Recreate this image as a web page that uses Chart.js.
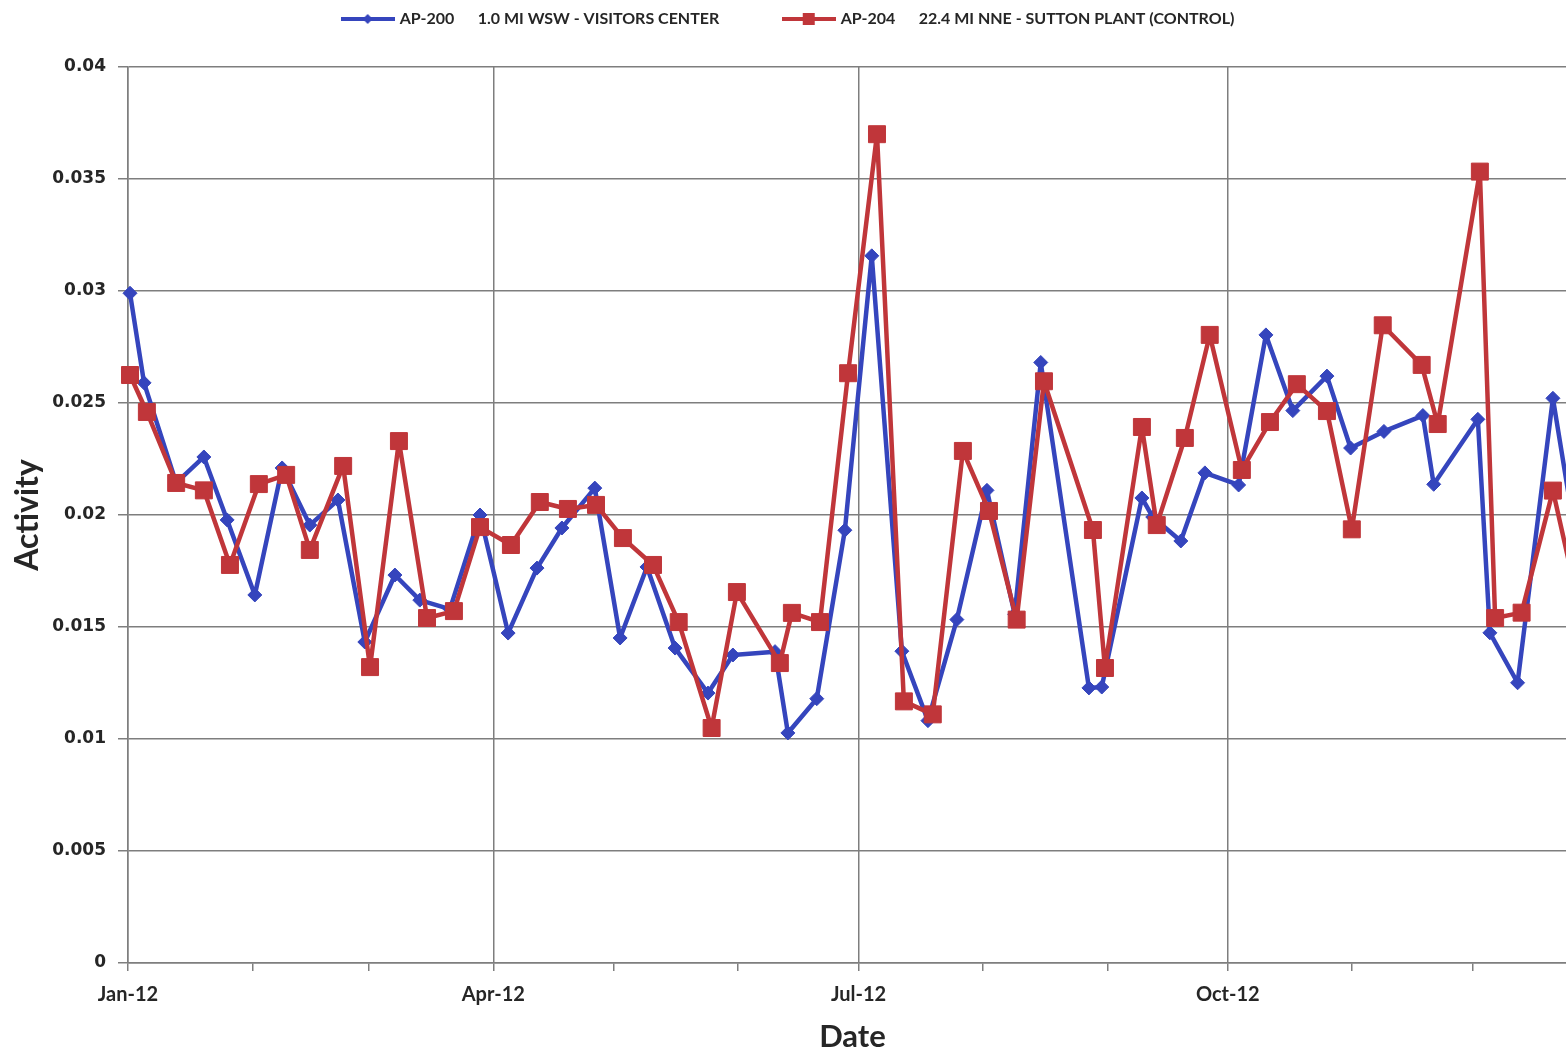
<!DOCTYPE html>
<html>
<head>
<meta charset="utf-8">
<title>AP-200 / AP-204 Activity 2012</title>
<script src="https://cdn.jsdelivr.net/npm/chart.js@4.4.1/dist/chart.umd.min.js"></script>
<style>
html, body { margin: 0; padding: 0; background: #fff; overflow: hidden; }
#wrap { width: 1590px; height: 1052px; }
</style>
</head>
<body>
<div id="wrap"><canvas id="myChart" width="1590" height="1052"></canvas></div>
<script>
// sample dates as days counted from 1 Jan 2012
var ap200Days = [0.5, 4, 12, 18.9, 24.7, 31.6, 38.4, 45.3, 52.3, 59,
    66.5, 72.7, 80.2, 87.7, 94.7, 101.9, 108.1, 116.3, 122.6, 129.3,
    136.3, 144.5, 150.7, 161.2, 164.4, 171.6, 178.6, 185.3, 192.8, 199.3,
    206.5, 214, 220.9, 227.4, 239.4, 242.6, 252.6, 255.3, 262.3, 268.3,
    276.7, 283.5, 290.2, 298.7, 304.6, 312.9, 322.6, 325.3, 336.3, 339.3,
    346.2, 355, 362];
var ap200Values = [0.0299, 0.0259, 0.02143, 0.02259, 0.01978, 0.01643, 0.0221, 0.01955, 0.02067, 0.01433,
    0.01732, 0.0162, 0.0158, 0.0200, 0.01473, 0.01763, 0.01942, 0.0212, 0.01451, 0.01768,
    0.01406, 0.01205, 0.01375, 0.0139, 0.01027, 0.0118, 0.01932, 0.03157, 0.01392, 0.01082,
    0.01533, 0.0211, 0.01557, 0.02681, 0.01228, 0.01232, 0.02076, 0.01991, 0.01884, 0.02188,
    0.02134, 0.02804, 0.02466, 0.0262, 0.02299, 0.02373, 0.02444, 0.02137, 0.02427, 0.01474,
    0.01251, 0.02521, 0.0175];

var ap204Days = [0.5, 4.7, 12, 18.9, 25.4, 32.6, 39.4, 45.3, 53.6, 60.3,
    67.5, 74.5, 81.2, 87.7, 95.4, 102.6, 109.6, 116.6, 123.3, 130.8,
    137.2, 145.4, 151.7, 162.4, 165.4, 172.4, 179.4, 186.6, 193.3, 200.5,
    208, 214.5, 221.4, 228.2, 240.4, 243.4, 252.6, 256.3, 263.3, 269.5,
    277.5, 284.5, 291.2, 298.7, 304.9, 312.6, 322.3, 326.3, 336.8, 340.6,
    347.2, 355, 362];
var ap204Values = [0.02625, 0.0246, 0.02143, 0.0211, 0.01777, 0.02138, 0.02179, 0.01844, 0.02219, 0.01321,
    0.0233, 0.0154, 0.01571, 0.01946, 0.01866, 0.02058, 0.02027, 0.02045, 0.01897, 0.01777,
    0.01522, 0.01049, 0.01656, 0.01339, 0.01563, 0.01522, 0.02633, 0.0370, 0.01168, 0.0111,
    0.02286, 0.02018, 0.01533, 0.02597, 0.01933, 0.01317, 0.02393, 0.01955, 0.02344, 0.02804,
    0.02201, 0.02415, 0.02584, 0.02464, 0.01936, 0.02847, 0.0267, 0.02406, 0.03533, 0.0154,
    0.01564, 0.02109, 0.0155];

var monthStarts = [0, 31, 60, 91, 121, 152, 182, 213, 244, 274, 305, 335];
var monthLabels = ['Jan-12', '', '', 'Apr-12', '', '', 'Jul-12', '', '', 'Oct-12', '', ''];
var yTicks = [0, 0.005, 0.01, 0.015, 0.02, 0.025, 0.03, 0.035, 0.04];

var blue = '#3545bd';
var red = '#c0363a';
var gridGray = '#7e7e7e';
var textColor = '#262626';
var fontFamily = "Lato, 'DejaVu Sans', sans-serif";

function toPoints(days, values) {
    return days.map(function (d, i) { return {x: d, y: values[i]}; });
}

// little line + marker picture for the legend, like the Excel one
function legendMarker(color, square) {
    var c = document.createElement('canvas');
    c.width = 54;
    c.height = 16;
    var g = c.getContext('2d');
    g.strokeStyle = color;
    g.lineWidth = 4;
    g.beginPath();
    g.moveTo(0, 8);
    g.lineTo(54, 8);
    g.stroke();
    g.fillStyle = color;
    g.beginPath();
    if (square) {
        g.rect(21, 2, 12, 12);
    } else {
        g.moveTo(27, 3); g.lineTo(32, 8); g.lineTo(27, 13); g.lineTo(22, 8);
    }
    g.fill();
    return c;
}

var legendNames = [
    'AP-200      1.0 MI WSW - VISITORS CENTER              ',
    'AP-204      22.4 MI NNE - SUTTON PLANT (CONTROL)'
];
var legendPics = [legendMarker(blue, false), legendMarker(red, true)];

// push the plot down below the legend row
var legendGap = {
    id: 'legendGap',
    beforeInit: function (chart) {
        var fit = chart.legend.fit;
        chart.legend.fit = function () {
            fit.bind(chart.legend)();
            this.height = 67;
        };
    }
};

var myChart = document.getElementById('myChart').getContext('2d');

var test = new Chart(myChart, {
    type: 'line',
    data: {
        datasets: [
            {
                label: legendNames[0],
                data: toPoints(ap200Days, ap200Values),
                borderColor: blue,
                backgroundColor: blue,
                borderWidth: 4.5,
                borderJoinStyle: 'round',
                pointStyle: 'rectRot',
                pointRadius: 7,
                pointBorderWidth: 1,
                order: 1,
                clip: false
            },
            {
                label: legendNames[1],
                data: toPoints(ap204Days, ap204Values),
                borderColor: red,
                backgroundColor: red,
                borderWidth: 4.5,
                borderJoinStyle: 'round',
                pointStyle: 'rect',
                pointRadius: 12,
                pointBorderWidth: 1,
                order: 0,
                clip: false
            }
        ]
    },
    options: {
        responsive: false,
        animation: false,
        layout: { padding: { left: 0, right: 12, top: 0, bottom: 0 } },
        plugins: {
            tooltip: { enabled: false },
            legend: {
                position: 'top',
                labels: {
                    usePointStyle: true,
                    pointStyleWidth: 48,
                    padding: 11,
                    color: textColor,
                    font: { family: fontFamily, size: 16, weight: 'bold' },
                    generateLabels: function () {
                        return legendNames.map(function (name, i) {
                            return {
                                text: name,
                                pointStyle: legendPics[i],
                                fillStyle: i ? red : blue,
                                strokeStyle: i ? red : blue,
                                lineWidth: 0,
                                fontColor: textColor,
                                hidden: false,
                                datasetIndex: i
                            };
                        });
                    }
                }
            }
        },
        scales: {
            x: {
                type: 'linear',
                min: 0,
                max: 361,
                afterFit: function (scale) { scale.height = 89; },
                afterBuildTicks: function (scale) {
                    scale.ticks = monthStarts.map(function (v) { return {value: v}; });
                },
                ticks: {
                    autoSkip: false,
                    maxRotation: 0,
                    padding: 12,
                    color: textColor,
                    font: { family: fontFamily, size: 20, weight: 'bold' },
                    callback: function (value) {
                        var i = monthStarts.indexOf(value);
                        return i >= 0 ? monthLabels[i] : '';
                    }
                },
                grid: {
                    color: function (ctx) {
                        var i = ctx.tick ? monthStarts.indexOf(ctx.tick.value) : -1;
                        return (i >= 0 && monthLabels[i] !== '') ? gridGray : 'rgba(0,0,0,0)';
                    },
                    tickColor: gridGray,
                    lineWidth: 1.5,
                    tickLength: 8
                },
                border: { display: true, color: gridGray, width: 1.5 },
                title: {
                    display: true,
                    text: 'Date',
                    color: textColor,
                    padding: { top: 0, bottom: 0 },
                    font: { family: fontFamily, size: 31, weight: 'bold', lineHeight: 1 }
                }
            },
            y: {
                min: 0,
                max: 0.04,
                afterFit: function (scale) { scale.width = 128; },
                afterBuildTicks: function (scale) {
                    scale.ticks = yTicks.map(function (v) { return {value: v}; });
                },
                ticks: {
                    padding: 12,
                    color: textColor,
                    font: { family: "'DejaVu Sans', sans-serif", size: 17, weight: 'bold' },
                    callback: function (value) { return String(+value.toFixed(3)); }
                },
                grid: {
                    color: gridGray,
                    tickColor: gridGray,
                    lineWidth: 1.5,
                    tickLength: 10
                },
                border: { display: true, color: gridGray, width: 1.5 },
                title: {
                    display: true,
                    text: 'Activity',
                    color: textColor,
                    padding: { top: 8, bottom: 0 },
                    font: { family: fontFamily, size: 32, weight: 'bold' }
                }
            }
        }
    },
    plugins: [legendGap]
});
</script>
</body>
</html>
